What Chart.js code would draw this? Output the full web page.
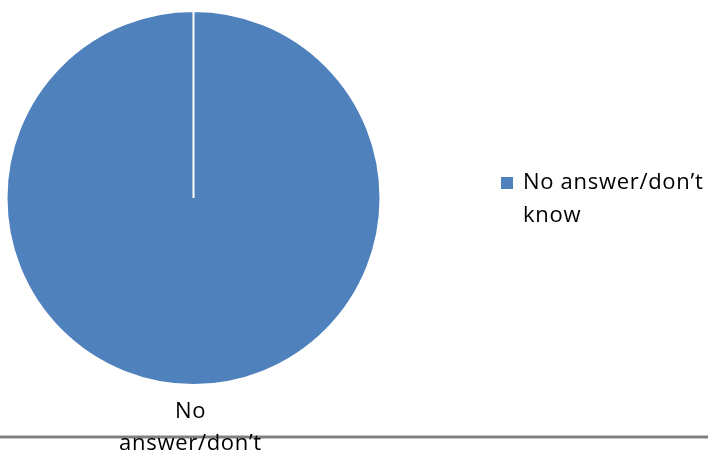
<!DOCTYPE html>
<html>
<head>
<meta charset="utf-8">
<script src="https://cdn.jsdelivr.net/npm/chart.js@4/dist/chart.umd.min.js"></script>
<style>
  html, body { margin: 0; padding: 0; background: #ffffff; }
  canvas { display: block; }
</style>
</head>
<body>
<canvas id="chart" width="708" height="450"></canvas>
<script>
// Survey responses shown as a pie
const categories = ['No answer/don\u2019t know'];
const shares = [100];
const sliceColors = ['#4F81BD'];
// Wrapped text for the slice label and legend entry
const sliceLabelLines = [['No', 'answer/don\u2019t', 'know']];
const legendLines = [['No answer/don\u2019t', 'know']];

const FONT = '22px "Open Sans", "Liberation Sans", sans-serif';

// Draws the rule near the bottom edge, the outside slice labels and a wrapped legend
const decorations = {
  id: 'decorations',
  afterDraw(chart) {
    const ctx = chart.ctx;
    const meta = chart.getDatasetMeta(0);
    ctx.save();

    // bottom rule
    ctx.fillStyle = '#c4c4c4';
    ctx.fillRect(0, 435, chart.width, 4);
    ctx.fillStyle = '#7f7f7f';
    ctx.fillRect(0, 436, chart.width, 2);

    ctx.font = FONT;
    if ('letterSpacing' in ctx) ctx.letterSpacing = '0.7px';
    ctx.fillStyle = '#000000';
    ctx.textAlign = 'center';
    ctx.textBaseline = 'alphabetic';

    // slice label under the pie
    meta.data.forEach((arc, i) => {
      const lines = sliceLabelLines[i];
      const x = arc.x - 3;
      let y = arc.y + arc.outerRadius + 33;
      lines.forEach(line => { ctx.fillText(line, x, y); y += 32; });
    });

    // legend
    ctx.textAlign = 'left';
    categories.forEach((c, i) => {
      const bx = 501, by = 177 + i * 66;
      ctx.fillStyle = sliceColors[i];
      ctx.fillRect(bx, by, 12, 12);
      ctx.fillStyle = '#000000';
      let y = by + 12;
      legendLines[i].forEach(line => { ctx.fillText(line, 523, y); y += 33; });
    });

    ctx.restore();
  }
};

new Chart(document.getElementById('chart'), {
  type: 'pie',
  data: {
    labels: categories,
    datasets: [{
      data: shares,
      backgroundColor: sliceColors,
      borderColor: '#ffffff',
      borderWidth: 2
    }]
  },
  options: {
    responsive: false,
    animation: false,
    layout: { padding: { left: 5, top: 10, right: 326, bottom: 64 } },
    plugins: {
      legend: { display: false },
      tooltip: { enabled: false },
      title: { display: false }
    }
  },
  plugins: [decorations]
});
</script>
</body>
</html>
